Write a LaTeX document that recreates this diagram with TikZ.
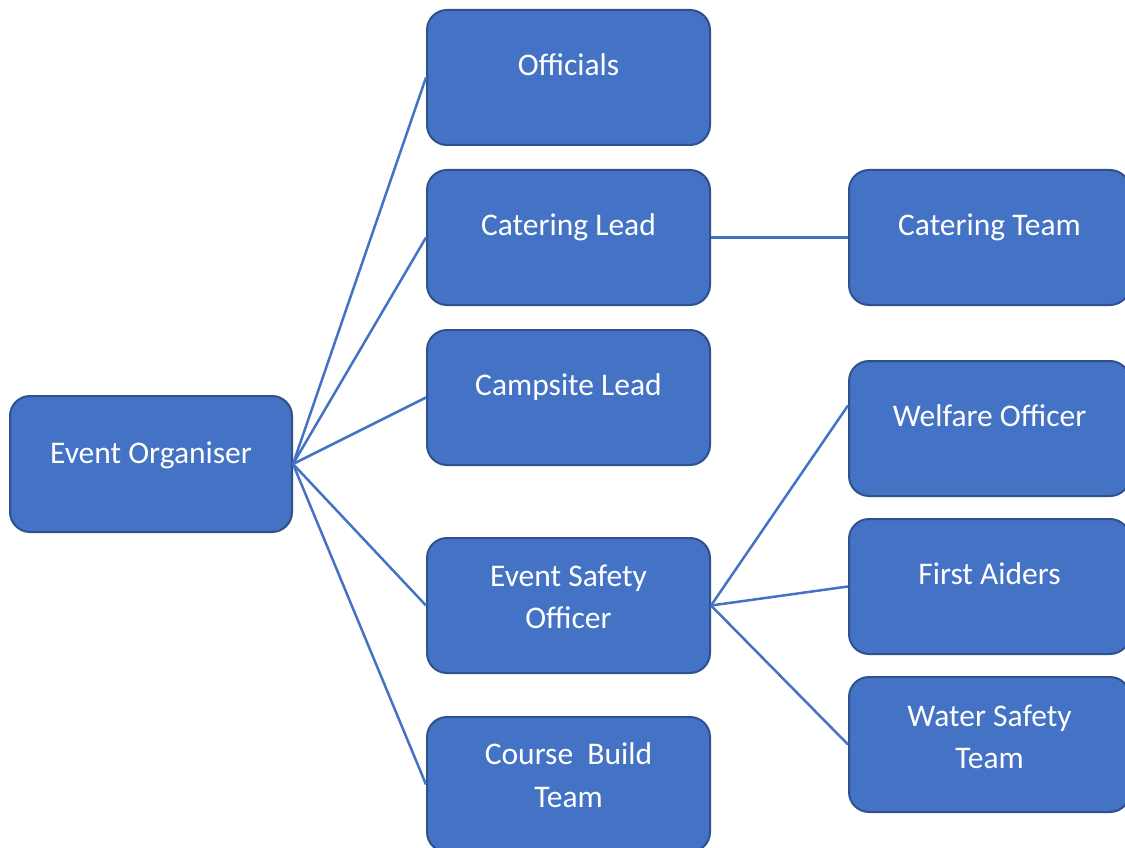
\documentclass[tikz,border=0pt]{standalone}
\usepackage{fontspec}
\setmainfont{Carlito}
\usetikzlibrary{calc}
\definecolor{boxfill}{HTML}{4472C4}
\definecolor{boxedge}{HTML}{2F528F}
\definecolor{linkc}{HTML}{4472C4}
\begin{document}
\begin{tikzpicture}[x=1pt,y=-1pt,
  box/.style={draw=boxedge, line width=2pt, fill=boxfill, rounded corners=20pt,
    minimum width=283pt, minimum height=135pt, inner sep=0pt},
  lbl/.style={anchor=base, text=white, font=\fontsize{31.5}{38}\selectfont, inner sep=0pt},
  link/.style={draw=linkc, line width=2.5pt}]
\clip (0,0) rectangle (1125,848);
\fill[white] (0,0) rectangle (1125,848);
% boxes
\node[box, minimum width=282pt, minimum height=136pt] (org) at (151,464) {};
\node[box] (off)  at (568.5,77.5) {};
\node[box] (cat)  at (568.5,237.5) {};
\node[box] (camp) at (568.5,397.5) {};
\node[box] (eso)  at (568.5,605.5) {};
\node[box] (cbt)  at (568.5,784.5) {};
\node[box, minimum width=281pt] (catT) at (989.5,237.5) {};
\node[box, minimum width=281pt] (wel)  at (989.5,428.5) {};
\node[box, minimum width=281pt] (fa)   at (989.5,586.5) {};
\node[box, minimum width=281pt] (wst)  at (989.5,744.5) {};
% connectors
\draw[link] (org.east) -- (off.west);
\draw[link] (org.east) -- (cat.west);
\draw[link] (org.east) -- (camp.west);
\draw[link] (org.east) -- (eso.west);
\draw[link] (org.east) -- (cbt.west);
\draw[link] (cat.east) -- (catT.west);
\draw[link] (eso.east) -- ($(wel.west)+(0,-23)$);
\draw[link] (eso.east) -- (fa.west);
\draw[link] (eso.east) -- (wst.west);
% labels
\node[lbl] (orgL)  at ($(org.center)+(0,-1)$) {Event Organiser};
\node[lbl] (offL)  at ($(off.center)+(0,-2)$) {Officials};
\node[lbl] (catL)  at ($(cat.center)+(0,-2)$) {Catering Lead};
\node[lbl] (campL) at ($(camp.center)+(0,-2)$) {Campsite Lead};
\node[lbl] (esoL1) at ($(eso.center)+(0,-19)$) {Event Safety};
\node[lbl] (esoL2) at ($(eso.center)+(0,23)$) {Officer};
\node[lbl] (cbtL1) at ($(cbt.center)+(0,-20)$) {Course\ \ Build};
\node[lbl] (cbtL2) at ($(cbt.center)+(0,23)$) {Team};
\node[lbl] (catTL) at ($(catT.center)+(0,-2)$) {Catering Team};
\node[lbl] (welL)  at ($(wel.center)+(0,-2)$) {Welfare Officer};
\node[lbl] (faL)   at ($(fa.center)+(0,-2)$) {First Aiders};
\node[lbl] (wstL1) at ($(wst.center)+(0,-18)$) {Water Safety};
\node[lbl] (wstL2) at ($(wst.center)+(0,24)$) {Team};
\end{tikzpicture}
\end{document}
